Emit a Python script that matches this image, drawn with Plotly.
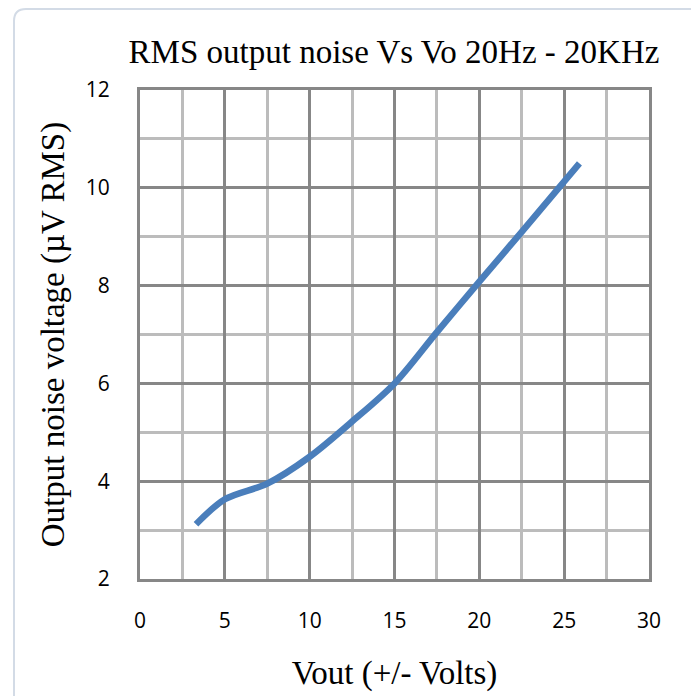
import plotly.graph_objects as go

vout = [3.3, 5, 7.5, 10, 12.5, 15, 17.5, 20, 22.5, 25.9]
noise = [3.12, 3.63, 3.95, 4.5, 5.22, 6.0, 7.05, 8.08, 9.1, 10.5]

x_ticks = [0, 5, 10, 15, 20, 25, 30]
y_ticks = [2, 4, 6, 8, 10, 12]

# page has an 8px body margin; figure sized so the page layout matches
W, H = 691, 688
L, R, T, B = 132, 50, 82, 117
pw, ph = W - L - R, H - T - B

fig = go.Figure()
fig.add_trace(go.Scatter(
    x=vout, y=noise, mode="lines",
    line=dict(color="#4a7ebb", width=6.5, shape="spline", smoothing=0.9),
    showlegend=False,
))

major = "#878787"
minor = "#bcbcbc"
serif = dict(family="Liberation Serif", size=33, color="black")
sans = dict(family="Open Sans", size=21, color="black")
fig.update_layout(
    width=W, height=H,
    margin=dict(l=L, r=R, t=T, b=B, pad=0),
    paper_bgcolor="white", plot_bgcolor="white",
    title=dict(text="RMS output noise Vs Vo 20Hz - 20KHz", font=serif,
               x=386 / W, xanchor="center", y=1 - 43 / H, yanchor="middle"),
    xaxis=dict(range=[0, 30], tickvals=x_ticks, ticktext=[str(v) for v in x_ticks],
               showgrid=True, gridcolor=major, gridwidth=3,
               minor=dict(dtick=2.5, tick0=0, showgrid=True, gridcolor=minor, gridwidth=2.5),
               showline=True, linecolor=major, linewidth=3, mirror=True,
               zeroline=False, ticks="", ticklabelstandoff=21,
               tickfont=sans,
               title=dict(text="Vout (+/- Volts)", standoff=28, font=serif)),
    yaxis=dict(range=[2, 12], tickvals=y_ticks, ticktext=[str(v) for v in y_ticks],
               showgrid=True, gridcolor=major, gridwidth=3,
               minor=dict(dtick=1, tick0=0, showgrid=True, gridcolor=minor, gridwidth=2.5),
               showline=True, linecolor=major, linewidth=3, mirror=True,
               zeroline=False, ticks="", ticklabelstandoff=23,
               tickfont=sans,
               title=dict(text="Output noise voltage (µV RMS)", standoff=12, font=serif)),
)

# outer chart border (light), only left/top visible in the frame
x0 = (6 - L) / pw
y1 = (H - B - 1) / ph
r = 12
fig.add_shape(type="path", xref="paper", yref="paper",
              path=(f"M {x0},-1 L {x0},{y1 - r / ph} "
                    f"Q {x0},{y1} {x0 + r / pw},{y1} L 2,{y1}"),
              line=dict(color="#d3dbe6", width=2), layer="below")

fig.write_html("out.html")
